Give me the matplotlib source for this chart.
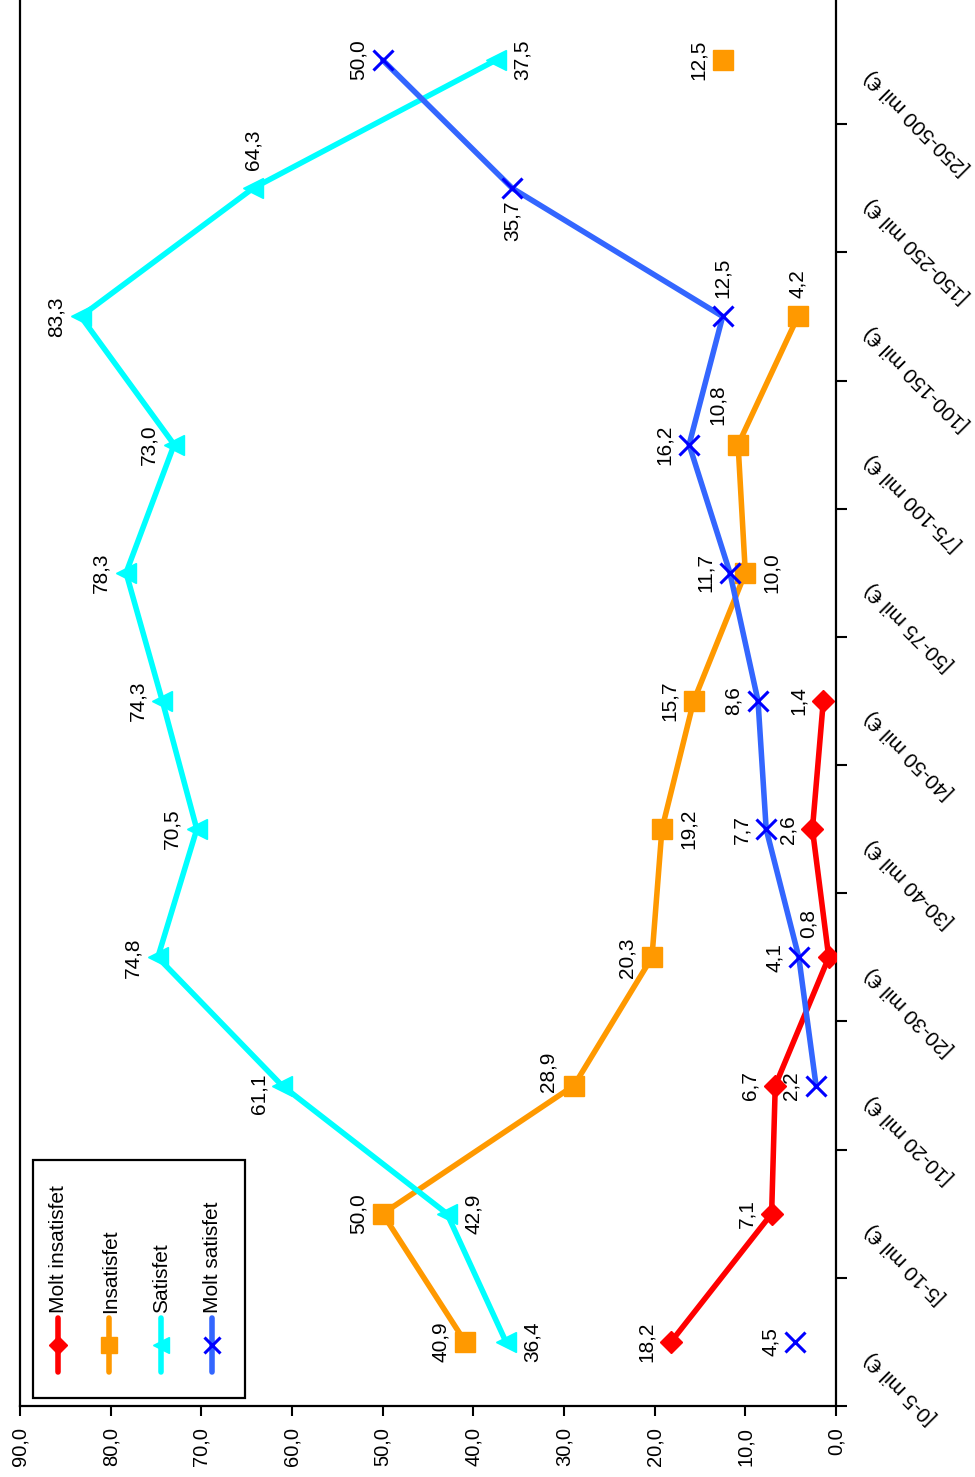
import numpy as np
import matplotlib
matplotlib.use('Agg')
import matplotlib.pyplot as plt
import matplotlib.transforms as mtransforms
from matplotlib.patches import Rectangle

# ---------------- data ----------------
categories = ['[0-5 mil €)', '[5-10 mil €)', '[10-20 mil €)', '[20-30 mil €)',
              '[30-40 mil €)', '[40-50 mil €)', '[50-75 mil €)', '[75-100 mil €)',
              '[100-150 mil €)', '[150-250 mil €)', '[250-500 mil €)']
nan = np.nan
molt_insatisfet = [18.2, 7.1, 6.7, 0.8, 2.6, 1.4, nan, nan, nan, nan, nan]
insatisfet = [40.9, 50.0, 28.9, 20.3, 19.2, 15.7, 10.0, 10.8, 4.2, nan, 12.5]
satisfet = [36.4, 42.9, 61.1, 74.8, 70.5, 74.3, 78.3, 73.0, 83.3, 64.3, 37.5]
molt_satisfet = [4.5, nan, 2.2, 4.1, 7.7, 8.6, 11.7, 16.2, 12.5, 35.7, 50.0]
series_names = ['Molt insatisfet', 'Insatisfet', 'Satisfet', 'Molt satisfet']
value_ticks = [0, 10, 20, 30, 40, 50, 60, 70, 80, 90]

# label placement (layout only)
label_pos = [
    ['l', 'l', 'l', 'lu', 'l', 'l', None, None, None, None, None],
    ['l', 'l', 'lm', 'l', 'r', 'l', 'r', 'lu', 'u', None, 'l'],
    ['r', 'r', 'ld', 'l', 'l', 'l', 'l', 'l', 'l', 'u', 'r'],
    ['l', None, 'l', 'l', 'l', 'l', 'l', 'l', 'u', 'd', 'l'],
]

series = [molt_insatisfet, insatisfet, satisfet, molt_satisfet]
line_colors = ['#FF0000', '#FF9900', '#00FFFF', '#3366FF']
marker_colors = ['#FF0000', '#FF9900', '#00FFFF', '#0000FF']
markers = ['D', 's', '<', 'x']
msizes = [11, 14, 14, 14]

W, H = 975, 1477
plt.rcParams['font.family'] = ['Liberation Sans', 'DejaVu Sans']
fig = plt.figure(figsize=(W / 100, H / 100), dpi=100)

ax_left, ax_right, ax_bottom, ax_top = 20, 836, 1406, -4
ax = fig.add_axes([ax_left / W, (H - ax_bottom) / H,
                   (ax_right - ax_left) / W, (ax_bottom - ax_top) / H])

ypos = np.arange(len(categories))
for vals, lc, mc, mk, ms in zip(series, line_colors, marker_colors, markers, msizes):
    ax.plot(vals, ypos, color=lc, lw=4, solid_capstyle='round', zorder=2)
    ax.plot(vals, ypos, linestyle='none', marker=mk, ms=ms, color=mc,
            mec=mc, mew=2.2 if mk == 'x' else 1, zorder=3)

offs = {
    'l': ((-11, 0), 'right', 'center'),
    'lm': ((-12, 10), 'right', 'center'),
    'ld': ((-10, -6), 'right', 'center'),
    'r': ((12, 0), 'left', 'center'),
    'u': ((0, 13), 'center', 'bottom'),
    'd': ((0, -9), 'center', 'top'),
    'lu': ((-8, 14), 'right', 'bottom'),
}
for vals, poss in zip(series, label_pos):
    for i, (v, p) in enumerate(zip(vals, poss)):
        if p is None or np.isnan(v):
            continue
        (dx, dy), ha, va = offs[p]
        ax.annotate(f"{v:.1f}".replace('.', ','), (v, i), xytext=(dx, dy),
                    textcoords='offset points', rotation=90, ha=ha, va=va,
                    fontsize=15, color='black', zorder=4)

ax.set_xlim(90, 0)
ax.set_ylim(-0.5, len(categories) - 0.5)

ax.set_xticks(value_ticks)
ax.set_xticklabels([f"{t:.1f}".replace('.', ',') for t in value_ticks],
                   rotation=90, fontsize=14.5)
ax.tick_params(axis='x', direction='out', length=7, width=1.5, pad=8)

ax.yaxis.tick_right()
ax.set_yticks(ypos)
ax.set_yticks(np.arange(-0.5, len(categories), 1.0), minor=True)
ax.tick_params(axis='y', which='major', length=0, pad=0)
ax.tick_params(axis='y', which='minor', direction='out', length=8, width=1.5)
ax.set_yticklabels(categories, fontsize=15, rotation=135,
                   rotation_mode='anchor', ha='right', va='center')
shift = mtransforms.ScaledTranslation(32 / 100, -13 / 100, fig.dpi_scale_trans)
for lbl in ax.get_yticklabels():
    lbl.set_transform(lbl.get_transform() + shift)

for sp in ax.spines.values():
    sp.set_linewidth(1.6)

# ---------------- manual rotated legend ----------------
ov = fig.add_axes([0, 0, 1, 1], facecolor='none')
ov.set_xlim(0, W)
ov.set_ylim(H, 0)
ov.axis('off')
ov.add_patch(Rectangle((33, 1160), 212, 238, fill=False, lw=1.6, ec='black'))
for k, name in enumerate(series_names):
    x = 58 + k * 51.3
    ov.plot([x, x], [1318, 1372], color=line_colors[k], lw=4, solid_capstyle='round')
    ov.plot([x], [1345], marker=markers[k], ms=msizes[k] * 0.85, color=marker_colors[k],
            mec=marker_colors[k], mew=2.2 if markers[k] == 'x' else 1, linestyle='none')
    ov.text(x + 1, 1313, name, rotation=90, ha='center', va='bottom', fontsize=15)

fig.savefig('out.png', dpi=100)
